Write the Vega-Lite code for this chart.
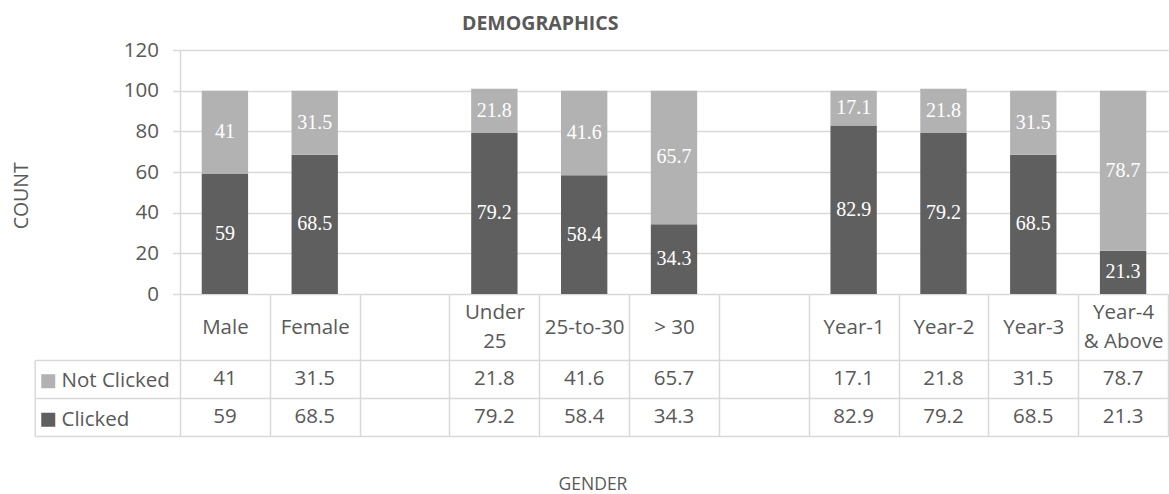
{
  "$schema": "https://vega.github.io/schema/vega-lite/v6.json",
  "background": "white",
  "padding": {"left": 11, "top": 13, "right": 0, "bottom": 0},
  "title": {"text": "DEMOGRAPHICS", "anchor": "start", "frame": "group", "dx": 282, "font": "Open Sans", "fontSize": 19.5, "fontWeight": "bold", "color": "#595959", "offset": 6},
  "bounds": "flush",
  "spacing": 66,
  "datasets": {
    "demo": [
      {"group": "Male", "series": "Clicked", "value": 59},
      {"group": "Male", "series": "Not Clicked", "value": 41},
      {"group": "Female", "series": "Clicked", "value": 68.5},
      {"group": "Female", "series": "Not Clicked", "value": 31.5},
      {"group": "Under 25", "series": "Clicked", "value": 79.2},
      {"group": "Under 25", "series": "Not Clicked", "value": 21.8},
      {"group": "25-to-30", "series": "Clicked", "value": 58.4},
      {"group": "25-to-30", "series": "Not Clicked", "value": 41.6},
      {"group": "> 30", "series": "Clicked", "value": 34.3},
      {"group": "> 30", "series": "Not Clicked", "value": 65.7},
      {"group": "Year-1", "series": "Clicked", "value": 82.9},
      {"group": "Year-1", "series": "Not Clicked", "value": 17.1},
      {"group": "Year-2", "series": "Clicked", "value": 79.2},
      {"group": "Year-2", "series": "Not Clicked", "value": 21.8},
      {"group": "Year-3", "series": "Clicked", "value": 68.5},
      {"group": "Year-3", "series": "Not Clicked", "value": 31.5},
      {"group": "Year-4 & Above", "series": "Clicked", "value": 21.3},
      {"group": "Year-4 & Above", "series": "Not Clicked", "value": 78.7}
    ]
  },
  "config": {
    "view": {"stroke": null},
    "font": "Open Sans",
    "legend": {
      "orient": "none",
      "legendX": -142,
      "legendY": 321,
      "direction": "vertical",
      "symbolType": "square",
      "symbolSize": 196,
      "symbolStrokeWidth": 0,
      "labelOffset": 3,
      "rowPadding": 17.5,
      "padding": 0,
      "labelFont": "Open Sans",
      "labelFontSize": 20.5,
      "labelColor": "#595959"
    }
  },
  "vconcat": [
    {
      "width": 988,
      "height": 244,
      "data": {"name": "demo"},
      "encoding": {
        "x": {
          "field": "group",
          "type": "nominal",
          "sort": null,
          "scale": {"domain": ["Male", "Female", " ", "Under 25", "25-to-30", "> 30", "  ", "Year-1", "Year-2", "Year-3", "Year-4 & Above"], "paddingInner": 0, "paddingOuter": 0},
          "axis": {
            "orient": "bottom",
            "title": null,
            "domain": false,
            "grid": false,
            "ticks": true,
            "tickBand": "extent",
            "tickSize": 66,
            "tickColor": "#d9d9d9",
            "tickWidth": 1.5,
            "labels": true,
            "labelExpr": "datum.label == 'Under 25' ? ['Under', '25'] : datum.label == 'Year-4 & Above' ? ['Year-4', '& Above'] : datum.label",
            "labelAngle": 0,
            "labelBaseline": {"condition": {"test": "datum.value == 'Under 25' || datum.value == 'Year-4 & Above'", "value": "line-bottom"}, "value": "middle"},
            "labelPadding": -33,
            "labelLineHeight": 29,
            "labelFont": "Open Sans",
            "labelFontSize": 20.5,
            "labelColor": "#595959"
          }
        }
      },
      "layer": [
        {
          "mark": {"type": "bar", "width": {"band": 0.516}},
          "encoding": {
            "y": {
              "field": "value",
              "type": "quantitative",
              "stack": "zero",
              "scale": {"domain": [0, 120], "nice": false},
              "axis": {
                "values": [0, 20, 40, 60, 80, 100, 120],
                "grid": true,
                "gridColor": "#d9d9d9",
                "gridWidth": 1.5,
                "domain": true,
                "domainColor": "#d9d9d9",
                "domainWidth": 1.5,
                "ticks": true,
                "tickSize": 7.5,
                "tickColor": "#d9d9d9",
                "tickWidth": 1.5,
                "labelFont": "Open Sans",
                "labelFontSize": 20.5,
                "labelColor": "#595959",
                "labelPadding": 14,
                "title": "COUNT",
                "titleFont": "Open Sans",
                "titleFontSize": 19.5,
                "titleFontWeight": "normal",
                "titleColor": "#595959",
                "titleX": -158.8,
                "titleY": 145.3,
                "titleBaseline": "middle",
                "titleAlign": "center",
                "titleAngle": -90
              }
            },
            "color": {
              "field": "series",
              "type": "nominal",
              "scale": {"domain": ["Not Clicked", "Clicked"], "range": ["#b2b2b2", "#5f5f5f"]},
              "legend": {"title": null}
            },
            "order": {"field": "series", "sort": "ascending"}
          }
        },
        {
          "mark": {"type": "text", "font": "Liberation Serif", "fontSize": 20, "color": "#ffffff", "baseline": "middle"},
          "encoding": {
            "y": {"field": "value", "type": "quantitative", "stack": "zero", "bandPosition": 0.5},
            "detail": {"field": "series"},
            "order": {"field": "series", "sort": "ascending"},
            "text": {"field": "value", "type": "quantitative"}
          }
        }
      ]
    },
    {
      "width": 988,
      "height": 76,
      "data": {"name": "demo"},
      "mark": {"type": "text", "font": "Open Sans", "fontSize": 20.5, "color": "#595959", "baseline": "middle"},
      "encoding": {
        "x": {
          "field": "group",
          "type": "nominal",
          "sort": null,
          "scale": {"domain": ["Male", "Female", " ", "Under 25", "25-to-30", "> 30", "  ", "Year-1", "Year-2", "Year-3", "Year-4 & Above"], "paddingInner": 0, "paddingOuter": 0},
          "axis": {
            "orient": "bottom",
            "grid": true,
            "gridColor": "#d9d9d9",
            "gridWidth": 1.5,
            "tickBand": "extent",
            "domain": false,
            "ticks": false,
            "labels": false,
            "title": "GENDER",
            "titleFont": "Open Sans",
            "titleFontSize": 17.5,
            "titleFontWeight": "normal",
            "titleColor": "#595959",
            "titleX": 412.5,
            "titleY": 39.7,
            "titleBaseline": "top",
            "titleAlign": "center"
          }
        },
        "y": {
          "field": "series",
          "type": "nominal",
          "scale": {"domain": ["Not Clicked", "Clicked"], "paddingInner": 0, "paddingOuter": 0},
          "axis": {
            "orient": "left",
            "offset": 145.3,
            "domain": true,
            "domainColor": "#d9d9d9",
            "domainWidth": 1.5,
            "ticks": true,
            "tickBand": "extent",
            "tickSize": -145.3,
            "tickColor": "#d9d9d9",
            "tickWidth": 1.5,
            "labels": false,
            "grid": true,
            "gridColor": "#d9d9d9",
            "gridWidth": 1.5,
            "title": null
          }
        },
        "text": {"field": "value", "type": "quantitative"}
      }
    }
  ]
}
